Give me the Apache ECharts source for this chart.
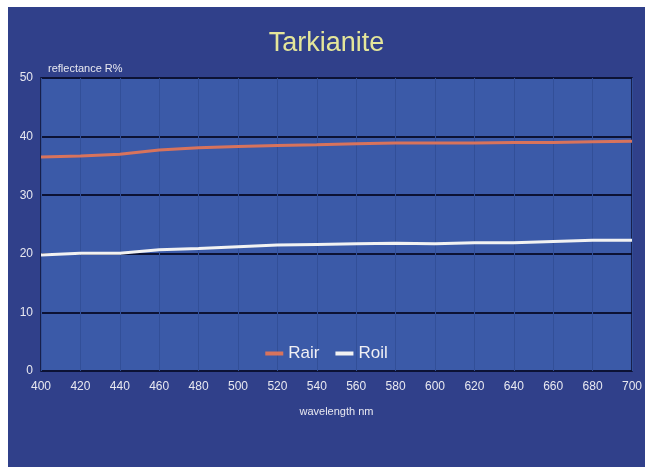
<!DOCTYPE html>
<html>
<head>
<meta charset="utf-8">
<script src="https://cdn.jsdelivr.net/npm/echarts@6/dist/echarts.min.js"></script>
<style>
  html, body { margin: 0; padding: 0; background: #ffffff; overflow: hidden; }
  #chart { position: absolute; left: 8px; top: 7px; width: 637px; height: 460px; }
</style>
</head>
<body>
<div id="chart"></div>
<script>
// wavelength (nm)
var wavelengths = [400, 420, 440, 460, 480, 500, 520, 540, 560, 580, 600, 620, 640, 660, 680, 700];
// reflectance in air and in oil, R%
var rair = [36.5, 36.7, 37.0, 37.7, 38.1, 38.3, 38.5, 38.6, 38.8, 38.9, 38.9, 38.9, 39.0, 39.0, 39.1, 39.2];
var roil = [19.8, 20.1, 20.1, 20.7, 20.9, 21.2, 21.5, 21.6, 21.7, 21.8, 21.7, 21.9, 21.9, 22.1, 22.3, 22.3];
var seriesNames = ['Rair', 'Roil'];

function pairs(xs, ys) {
    var out = [];
    for (var i = 0; i < xs.length; i++) {
        out.push([xs[i], ys[i]]);
    }
    return out;
}

var myChart = echarts.init(document.getElementById('chart'));
var labelFont = 'Liberation Sans, Arial, sans-serif';

var option = {
    backgroundColor: '#30408a',
    animation: false,
    title: [{
        text: 'Tarkianite',
        left: 'center',
        top: 18,
        textStyle: { color: '#e4e69a', fontSize: 27, fontWeight: 'normal', fontFamily: labelFont }
    }, {
        text: 'reflectance R%',
        left: 35,
        top: 51,
        textStyle: { color: '#e8e8f0', fontSize: 11, fontWeight: 'normal', fontFamily: labelFont }
    }],
    legend: {
        data: seriesNames,
        left: 'center',
        top: 333,
        itemWidth: 18,
        itemHeight: 4,
        itemGap: 16,
        icon: 'rect',
        textStyle: { color: '#f0f0f4', fontSize: 17, fontFamily: labelFont }
    },
    grid: {
        left: 33,
        right: 7,
        top: 71,
        bottom: 96,
        show: true,
        backgroundColor: '#3b5aa8',
        borderColor: '#17204c',
        borderWidth: 2
    },
    xAxis: {
        type: 'value',
        min: 400,
        max: 700,
        interval: 20,
        name: 'wavelength nm',
        nameLocation: 'middle',
        nameGap: 35,
        nameTextStyle: { color: '#e8e8f0', fontSize: 11, fontFamily: labelFont },
        axisLine: { show: false },
        axisTick: { show: false },
        axisLabel: { color: '#e8e8f0', fontSize: 12, margin: 10, fontFamily: labelFont },
        splitLine: { show: true, lineStyle: { color: '#324f98', width: 1 } }
    },
    yAxis: {
        type: 'value',
        min: 0,
        max: 50,
        interval: 10,
        axisLine: { show: false },
        axisTick: { show: false },
        axisLabel: { color: '#e8e8f0', fontSize: 12, margin: 8, fontFamily: labelFont },
        splitLine: { show: true, lineStyle: { color: '#0c1234', width: 2 } }
    },
    series: [{
        name: seriesNames[0],
        type: 'line',
        data: pairs(wavelengths, rair),
        symbol: 'none',
        color: '#d8735c',
        lineStyle: { width: 3, color: '#d8735c' }
    }, {
        name: seriesNames[1],
        type: 'line',
        data: pairs(wavelengths, roil),
        symbol: 'none',
        color: '#f2f2f2',
        lineStyle: { width: 3, color: '#f2f2f2' }
    }]
};

myChart.setOption(option);
</script>
</body>
</html>
